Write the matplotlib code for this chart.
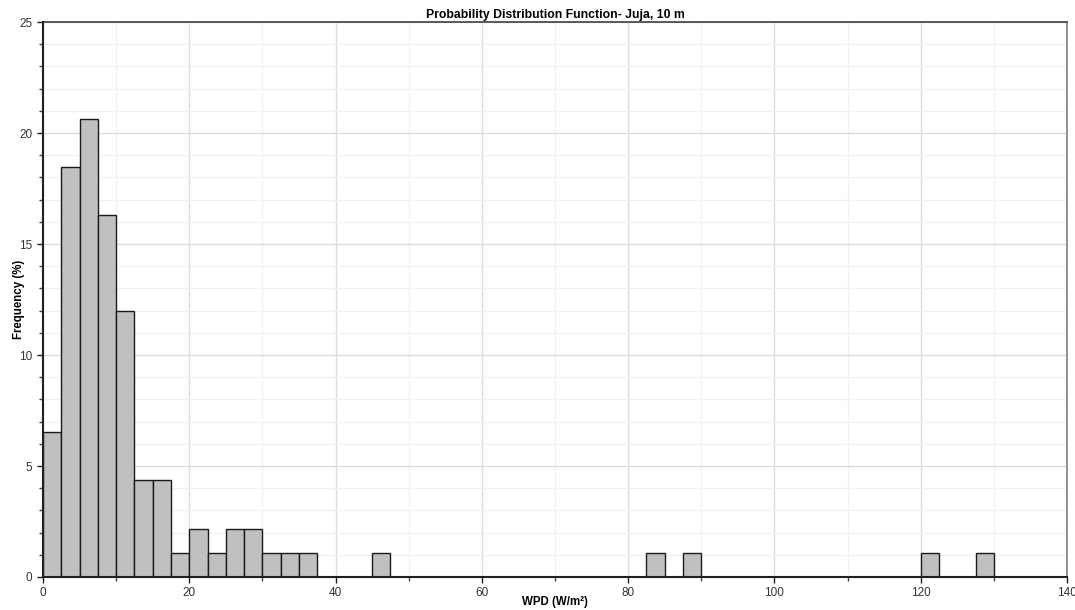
import numpy as np
import matplotlib
matplotlib.use("Agg")
import matplotlib.pyplot as plt
from matplotlib.ticker import MultipleLocator

plt.rcParams['font.family'] = ['Liberation Sans', 'DejaVu Sans']

# bin left edges (W/m2) and frequency (%)
bin_left = [0, 2.5, 5, 7.5, 10, 12.5, 15, 17.5, 20, 22.5, 25, 27.5, 30, 32.5, 35,
            45, 82.5, 87.5, 120, 127.5]
freq = [6.52, 18.48, 20.65, 16.30, 11.96, 4.35, 4.35, 1.09, 2.17, 1.09, 2.17, 2.17,
        1.09, 1.09, 1.09, 1.09, 1.09, 1.09, 1.09, 1.09]
bin_width = 2.5

fig = plt.figure(figsize=(10.75, 6.1), dpi=100)
ax = fig.add_axes([0.04, 0.0541, 0.9526, 0.9098])

ax.bar(bin_left, freq, width=bin_width, align='edge', color='#c0c0c0',
       edgecolor='#1a1a1a', linewidth=1.0, zorder=3)

ax.set_xlim(0, 140)
ax.set_ylim(0, 25)
ax.xaxis.set_major_locator(MultipleLocator(20))
ax.xaxis.set_minor_locator(MultipleLocator(10))
ax.yaxis.set_major_locator(MultipleLocator(5))
ax.yaxis.set_minor_locator(MultipleLocator(1))

ax.grid(which='major', color='#dcdcdc', linewidth=1.0, zorder=0)
ax.grid(which='minor', color='#f2f2f2', linewidth=1.0, zorder=0)

for s in ['left', 'bottom']:
    ax.spines[s].set_color('#202020')
    ax.spines[s].set_linewidth(1.5)
    ax.spines[s].set_zorder(4)
ax.spines['top'].set_color('#404040')
ax.spines['top'].set_linewidth(1.2)
ax.spines['right'].set_color('#808080')
ax.spines['right'].set_linewidth(1.2)

ax.tick_params(which='major', length=4, width=1, labelsize=8.5, colors='#202020',
               labelcolor='#333333')
ax.tick_params(which='minor', length=3, width=1, colors='#404040')

ax.set_title('Probability Distribution Function- Juja, 10 m', fontsize=8.8,
             fontweight='bold', pad=3)
ax.set_xlabel('WPD (W/m²)', fontsize=8.3, fontweight='bold')
ax.set_ylabel('Frequency (%)', fontsize=8.3, fontweight='bold')
ax.xaxis.set_label_coords(0.5, -0.035)
ax.yaxis.set_label_coords(-0.018, 0.5)

fig.savefig('out.png', dpi=100)
